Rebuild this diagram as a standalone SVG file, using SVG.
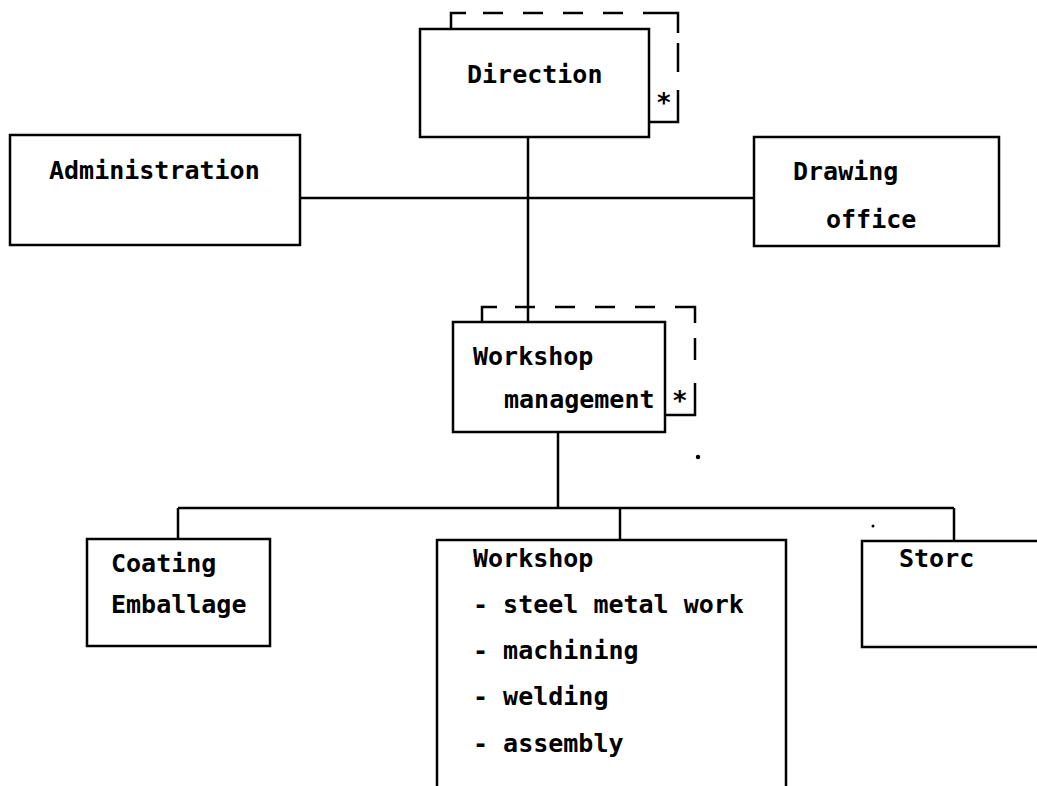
<svg xmlns="http://www.w3.org/2000/svg" width="1037" height="786" viewBox="0 0 1037 786">
<style>
.box{fill:none;stroke:#000;stroke-width:2.5}
.ln{fill:none;stroke:#000;stroke-width:2.5}
.dash{fill:none;stroke:#000;stroke-width:2.5;stroke-dasharray:20 20}
text{font-family:"DejaVu Sans Mono","Liberation Mono",monospace;font-weight:bold;font-size:25px;fill:#000}
.ast{font-size:26px}
</style>
<rect width="1037" height="786" fill="#fff"/>
<g id="connectors">
<line class="ln" x1="528" y1="137" x2="528" y2="322"/>
<line class="ln" x1="300" y1="198" x2="754" y2="198"/>
<line class="ln" x1="558" y1="432" x2="558" y2="508"/>
<line class="ln" x1="178" y1="508" x2="954" y2="508"/>
<line class="ln" x1="178" y1="508" x2="178" y2="539"/>
<line class="ln" x1="620" y1="508" x2="620" y2="540"/>
<line class="ln" x1="954" y1="508" x2="954" y2="541"/>
</g>
<g id="direction">
<path class="ln" d="M451 29 V13 H466"/>
<line class="dash" x1="483" y1="13" x2="660" y2="13"/>
<path class="ln" d="M660 13 H678 V33"/>
<line class="ln" x1="678" y1="43" x2="678" y2="72"/>
<path class="ln" d="M678 90 V122 H649"/>
<rect class="box" x="420" y="29" width="229" height="108"/>
<text x="467" y="83">Direction</text>
<text class="ast" x="656" y="112">*</text>
</g>
<g id="administration">
<rect class="box" x="10" y="135" width="290" height="110"/>
<text x="49" y="179">Administration</text>
</g>
<g id="drawing-office">
<rect class="box" x="754" y="137" width="245" height="109"/>
<text x="793" y="180">Drawing</text>
<text x="826" y="228">office</text>
</g>
<g id="workshop-management">
<path class="ln" d="M482 322 V307 H497"/>
<line class="dash" x1="515" y1="307" x2="680" y2="307"/>
<path class="ln" d="M680 307 H695 V323"/>
<line class="ln" x1="695" y1="338" x2="695" y2="360"/>
<path class="ln" d="M695 383 V415 H665"/>
<rect class="box" x="453" y="322" width="212" height="110"/>
<text x="473" y="365">Workshop</text>
<text x="504" y="408">management</text>
<text class="ast" x="672" y="410">*</text>
</g>
<g id="coating">
<rect class="box" x="87" y="539" width="183" height="107"/>
<text x="111" y="572">Coating</text>
<text x="111" y="613">Emballage</text>
</g>
<g id="workshop">
<path class="ln" d="M437 790 V540 H786 V790"/>
<text x="473" y="567">Workshop</text>
<text x="473" y="613">- steel metal work</text>
<text x="473" y="659">- machining</text>
<text x="473" y="705">- welding</text>
<text x="473" y="752">- assembly</text>
</g>
<g id="store">
<path class="ln" d="M1040 541 H862 V647 H1040"/>
<text x="899" y="567">Storc</text>
</g>
<circle cx="698" cy="457" r="2.2" fill="#000"/>
<circle cx="873" cy="526" r="1.5" fill="#000"/>
</svg>
